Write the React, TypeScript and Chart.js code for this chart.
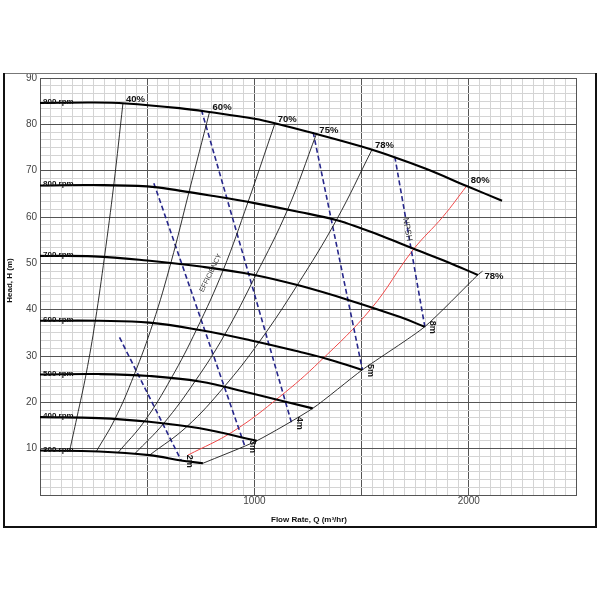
import React, { useEffect, useRef } from 'react';
import { Chart, registerables } from 'chart.js';

Chart.register(...registerables);

type P = [number, number];

const FONT = "'Liberation Sans', Arial, Helvetica, sans-serif";

// Axis ticks
const xLabelTicks = [1000, 2000];
const yLabelTicks = [10, 20, 30, 40, 50, 60, 70, 80, 90];

// Pump speed curves (Q m3/hr, H m)
const speedNames = ['900 rpm', '800 rpm', '700 rpm', '600 rpm', '500 rpm', '400 rpm', '300 rpm'];
const rpm900: P[] = [[0, 84.6], [250, 84.7], [400, 84.5], [650, 83.5], [800, 82.6], [1000, 81.2], [1100, 80.2], [1290, 77.9], [1500, 75.2], [1660, 72.8], [1800, 70.4], [1990, 66.7], [2155, 63.5]];
const rpm800: P[] = [[0, 66.8], [250, 66.9], [500, 66.6], [650, 65.7], [800, 64.6], [1000, 63.0], [1210, 61.1], [1385, 59.3], [1500, 57.5], [1600, 55.8], [1740, 53.2], [1900, 50.3], [2042, 47.5]];
const rpm700: P[] = [[0, 51.6], [250, 51.5], [500, 50.6], [750, 49.3], [1000, 47.5], [1210, 45.2], [1445, 42.0], [1680, 38.4], [1794, 36.3]];
const rpm600: P[] = [[0, 37.6], [275, 37.6], [510, 37.2], [745, 35.6], [980, 33.4], [1210, 30.9], [1360, 29.1], [1503, 27.0]];
const rpm500: P[] = [[0, 26.0], [275, 26.1], [510, 25.7], [745, 24.5], [980, 22.0], [1272, 18.7]];
const rpm400: P[] = [[0, 16.8], [275, 16.6], [510, 15.8], [745, 14.4], [1011, 11.7]];
const rpm300: P[] = [[0, 9.6], [275, 9.4], [510, 8.6], [665, 7.4], [760, 6.85]];
const speedCurves = [rpm900, rpm800, rpm700, rpm600, rpm500, rpm400, rpm300];

// Iso-efficiency lines (left side)
const effNames = ['40%', '60%', '70%', '75%', '78%'];
const eff40: P[] = [[138, 9.5], [172, 16.7], [215, 26.1], [258, 37.6], [301, 51.5], [344, 66.9], [387, 84.6]];
const eff60: P[] = [[262, 9.35], [349, 16.35], [438, 25.8], [527, 37.1], [611, 50.2], [695, 65.4], [791, 82.7]];
const eff70: P[] = [[363, 9.1], [487, 15.9], [612, 25.2], [730, 35.7], [855, 48.6], [970, 63.2], [1095, 80.1]];
const eff75: P[] = [[441, 8.85], [576, 15.4], [724, 24.6], [860, 34.5], [1005, 47.3], [1155, 61.6], [1289, 77.9]];
const eff78: P[] = [[511, 8.6], [685, 14.76], [858, 23.3], [1022, 33.0], [1200, 45.3], [1382, 59.3], [1548, 74.5]];
const effCurves = [eff40, eff60, eff70, eff75, eff78];

// Best efficiency (80%) line and right-hand 78% boundary
const bestName = '80%';
const eff80: P[] = [[690, 8.6], [900, 13.7], [1118, 21.2], [1305, 28.8], [1546, 40.3], [1740, 52.9], [1880, 60.1], [1990, 66.7]];
const boundName = '78%';
const eff78Right: P[] = [[760, 6.85], [1011, 11.7], [1272, 18.7], [1503, 27.0], [1794, 36.3], [2042, 47.5], [2064, 48.3]];

// NPSH required lines (top point, bottom point)
const npshNames = ['2m', '3m', '4m', '5m', '8m'];
const npsh2: P[] = [[371, 34.0], [659, 7.4]];
const npsh3: P[] = [[531, 67.3], [955, 10.6]];
const npsh4: P[] = [[753, 83.1], [1173, 15.6]];
const npsh5: P[] = [[1274, 78.3], [1504, 27.0]];
const npsh8: P[] = [[1655, 73.0], [1795, 36.3]];
const npshCurves = [npsh2, npsh3, npsh4, npsh5, npsh8];

// Free text annotations (anchor in data units)
const effTextAnchor: P = [796, 47.9];
const npshTextAnchor: P = [1713, 57.3];

const toXY = (pts: P[]) => pts.map(([x, y]) => ({ x, y }));

export default function App() {
  const ref = useRef<HTMLCanvasElement>(null);

  useEffect(() => {
    const datasets: any[] = [];
    speedCurves.forEach((c, i) =>
      datasets.push({
        label: speedNames[i],
        data: toXY(c),
        showLine: true,
        borderColor: '#000',
        borderWidth: 2.1,
        pointRadius: 0,
        tension: 0.4,
      })
    );
    effCurves.forEach((c, i) =>
      datasets.push({
        label: effNames[i],
        data: toXY(c),
        showLine: true,
        borderColor: '#1a1a1a',
        borderWidth: 0.9,
        pointRadius: 0,
        tension: 0.4,
      })
    );
    datasets.push({
      label: boundName,
      data: toXY(eff78Right),
      showLine: true,
      borderColor: '#1a1a1a',
      borderWidth: 0.9,
      pointRadius: 0,
      tension: 0.2,
    });
    npshCurves.forEach((c, i) =>
      datasets.push({
        label: npshNames[i],
        data: toXY(c),
        showLine: true,
        borderColor: '#26268a',
        borderWidth: 1.6,
        borderDash: [5, 3],
        pointRadius: 0,
        tension: 0,
      })
    );
    datasets.push({
      label: bestName,
      data: toXY(eff80),
      showLine: true,
      borderColor: '#f04848',
      borderWidth: 1,
      pointRadius: 0,
      tension: 0.4,
    });

    const isMajorY = (v: number) => Math.abs(v / 10 - Math.round(v / 10)) < 1e-6;
    const isMajorX = (v: number) => Math.abs(v / 500 - Math.round(v / 500)) < 1e-6;

    const labelPlugin = {
      id: 'pumpLabels',
      afterDatasetsDraw(chart: any) {
        const ctx = chart.ctx as CanvasRenderingContext2D;
        const xs = chart.scales.x;
        const ys = chart.scales.y;
        const px = (p: P) => xs.getPixelForValue(p[0]);
        const py = (p: P) => ys.getPixelForValue(p[1]);
        ctx.save();
        ctx.fillStyle = '#111';

        // rpm labels on the start of each speed curve
        ctx.font = `bold 8px ${FONT}`;
        ctx.textAlign = 'left';
        ctx.textBaseline = 'alphabetic';
        speedCurves.forEach((c, i) => {
          ctx.fillText(speedNames[i], px(c[0]) + 3, py(c[0]) + 1);
        });

        // efficiency labels at top of iso-efficiency lines
        ctx.font = `bold 9.5px ${FONT}`;
        ctx.textBaseline = 'middle';
        effCurves.forEach((c, i) => {
          const t = c[c.length - 1];
          ctx.fillText(effNames[i], px(t) + 3, py(t) - 4);
        });
        const bt = eff80[eff80.length - 1];
        ctx.fillText(bestName, px(bt) + 4, py(bt) - 6);
        const rt = eff78Right[eff78Right.length - 1];
        ctx.fillText(boundName, px(rt) + 2, py(rt) + 5);

        // NPSH values, rotated
        ctx.font = `bold 9px ${FONT}`;
        npshCurves.forEach((c, i) => {
          const b = c[c.length - 1];
          ctx.save();
          ctx.translate(px(b) + 8, py(b) - 6);
          ctx.rotate(Math.PI / 2);
          ctx.textAlign = 'left';
          ctx.textBaseline = 'middle';
          ctx.fillText(npshNames[i], 0, 0);
          ctx.restore();
        });

        // EFFICIENCY annotation
        ctx.save();
        ctx.fillStyle = '#333';
        ctx.font = `7px ${FONT}`;
        ctx.translate(px(effTextAnchor), py(effTextAnchor));
        ctx.rotate((-64 * Math.PI) / 180);
        ctx.textAlign = 'center';
        ctx.textBaseline = 'middle';
        ctx.fillText('EFFICIENCY', 0, 0);
        ctx.restore();

        // NPSH annotation
        ctx.save();
        ctx.fillStyle = '#333';
        ctx.font = `8.5px ${FONT}`;
        ctx.translate(px(npshTextAnchor), py(npshTextAnchor));
        ctx.rotate((80 * Math.PI) / 180);
        ctx.textAlign = 'center';
        ctx.textBaseline = 'middle';
        ctx.fillText('NPSH', 0, 0);
        ctx.restore();

        ctx.restore();
      },
      afterDraw(chart: any) {
        const ctx = chart.ctx as CanvasRenderingContext2D;
        const area = chart.chartArea;
        ctx.save();
        // axis titles
        ctx.fillStyle = '#111';
        ctx.font = `bold 8px ${FONT}`;
        ctx.textAlign = 'center';
        ctx.textBaseline = 'middle';
        ctx.fillText('Flow Rate, Q (m\u00B3/hr)', (area.left + area.right) / 2 + 1, 520);
        ctx.save();
        ctx.translate(10, (area.top + area.bottom) / 2 - 6);
        ctx.rotate(-Math.PI / 2);
        ctx.fillText('Head, H (m)', 0, 0);
        ctx.restore();
        // outer frame
        ctx.strokeStyle = '#777';
        ctx.lineWidth = 1;
        ctx.beginPath();
        ctx.moveTo(3, 73.5);
        ctx.lineTo(597, 73.5);
        ctx.stroke();
        ctx.strokeStyle = '#111';
        ctx.lineWidth = 2;
        ctx.beginPath();
        ctx.moveTo(4, 73);
        ctx.lineTo(4, 527);
        ctx.lineTo(596, 527);
        ctx.lineTo(596, 73);
        ctx.stroke();
        ctx.restore();
      },
    };

    const chart = new Chart(ref.current as HTMLCanvasElement, {
      type: 'scatter',
      data: { datasets },
      options: {
        responsive: false,
        animation: false,
        events: [],
        layout: { padding: { top: 78, right: 24, bottom: 0, left: 0 } },
        plugins: {
          legend: { display: false },
          tooltip: { enabled: false },
        },
        scales: {
          x: {
            type: 'linear',
            min: 0,
            max: 2500,
            afterFit: (s: any) => {
              s.height = 105;
            },
            afterBuildTicks: (s: any) => {
              const t = [];
              for (let v = 0; v <= 2500; v += 50) t.push({ value: v });
              s.ticks = t;
            },
            ticks: {
              autoSkip: false,
              maxRotation: 0,
              padding: 0,
              color: '#444',
              font: { family: FONT, size: 10 },
              callback: (v: any) => (xLabelTicks.includes(Number(v)) ? String(v) : ''),
            },
            grid: {
              drawTicks: false,
              lineWidth: 1,
              color: (c: any) => (c.tick && isMajorX(c.tick.value) ? '#555' : '#d4d4d4'),
            },
            border: { color: '#555', width: 1 },
          },
          y: {
            type: 'linear',
            min: 0,
            max: 90,
            afterFit: (s: any) => {
              s.width = 40;
            },
            afterBuildTicks: (s: any) => {
              const t = [];
              for (let i = 0; i <= 54; i++) t.push({ value: (i * 10) / 6 });
              s.ticks = t;
            },
            ticks: {
              autoSkip: false,
              padding: 3,
              color: '#444',
              font: { family: FONT, size: 10 },
              callback: (v: any) => {
                const r = Math.round(Number(v));
                return Math.abs(Number(v) - r) < 1e-6 && yLabelTicks.includes(r) ? String(r) : '';
              },
            },
            grid: {
              drawTicks: false,
              lineWidth: 1,
              color: (c: any) => (c.tick && isMajorY(c.tick.value) ? '#555' : '#d4d4d4'),
            },
            border: { color: '#555', width: 1 },
          },
        },
      } as any,
      plugins: [labelPlugin],
    });
    return () => chart.destroy();
  }, []);

  return (
    <div style={{ position: 'absolute', left: 0, top: 0, width: 600, height: 600, background: '#fff' }}>
      <canvas ref={ref} width={600} height={600} style={{ display: 'block' }} />
    </div>
  );
}
